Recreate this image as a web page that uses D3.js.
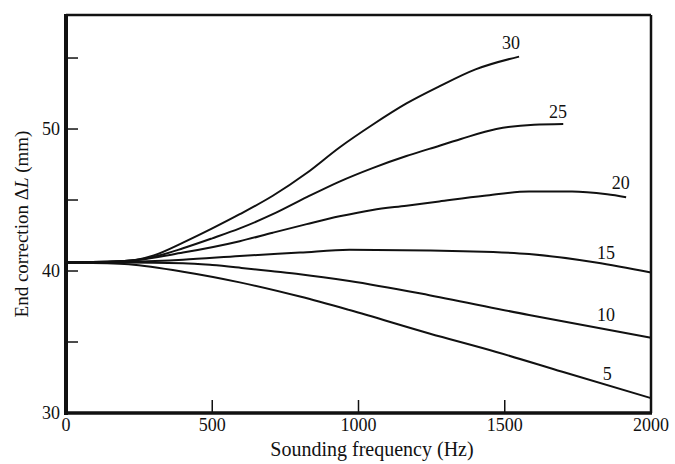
<!DOCTYPE html>
<html><head><meta charset="utf-8">
<script src="https://cdn.jsdelivr.net/npm/d3@7"></script>
<style>body{margin:0;background:#fff}svg{display:block}text{font-family:"Liberation Serif","DejaVu Serif",serif;fill:#111}</style>
</head><body><svg id="c" width="675" height="464"></svg>
<script>
// Data (frequency Hz, end correction mm) per curve, labelled by parameter
const freq30 = [0,200,300,400,500,594,707,823,935,1048,1164,1276,1400,1549];
const val30  = [40.6,40.7,41.1,42.0,43.0,44.0,45.3,46.9,48.7,50.3,51.8,53.0,54.2,55.1];
const freq25 = [0,200,300,400,500,594,707,823,935,1048,1164,1242,1350,1471,1600,1700];
const val25  = [40.6,40.7,41.0,41.6,42.3,43.0,44.0,45.2,46.3,47.25,48.1,48.6,49.3,50.0,50.3,50.35];
const freq20 = [0,200,400,594,707,823,935,1048,1164,1276,1430,1583,1730,1850,1915];
const val20  = [40.6,40.7,41.3,42.1,42.7,43.3,43.85,44.3,44.6,44.9,45.3,45.6,45.6,45.4,45.2];
const freq15 = [0,200,400,594,800,969,1242,1358,1583,1812,2000];
const val15  = [40.6,40.65,40.8,41.06,41.3,41.5,41.45,41.4,41.2,40.6,39.9];
const freq10 = [0,200,400,500,600,700,800,969,1242,1583,2000];
const val10  = [40.6,40.6,40.55,40.42,40.22,40.0,39.78,39.3,38.3,36.9,35.3];
const freq5  = [0,200,400,594,800,969,1242,1471,1697,2000];
const val5   = [40.6,40.5,39.95,39.2,38.2,37.25,35.6,34.3,32.9,31.05];
const seriesLabels = ["30","25","20","15","10","5"];
const labelFreq = [1521,1682,1897,1846,1846,1850];
const labelVal  = [56.06,51.2,46.2,41.3,36.9,32.8];
const xTicks = [0,500,1000,1500,2000];
const yTicks = [35,40,45,50,55];
const yTickLabels = [30,40,50];

const svg = d3.select("#c");
const L=66, T=15, R=651, B=413;
const x = d3.scaleLinear().domain([0,2000]).range([L,R]);
const y = d3.scaleLinear().domain([30,58.03]).range([B,T]);

const series = [[freq30,val30],[freq25,val25],[freq20,val20],[freq15,val15],[freq10,val10],[freq5,val5]];
const line = d3.line().x(d=>x(d[0])).y(d=>y(d[1])).curve(d3.curveMonotoneX);
series.forEach(([f,v])=>{
  svg.append("path").attr("d", line(f.map((d,i)=>[d,v[i]])))
    .attr("fill","none").attr("stroke","#111").attr("stroke-width",2);
});

// ticks (inside)
svg.selectAll(".yt").data(yTicks).enter().append("line")
  .attr("x1",L).attr("x2",L+12).attr("y1",d=>y(d)).attr("y2",d=>y(d))
  .attr("stroke","#111").attr("stroke-width",1.5);
svg.selectAll(".xt").data(xTicks.slice(1,-1)).enter().append("line")
  .attr("x1",d=>x(d)).attr("x2",d=>x(d)).attr("y1",B).attr("y2",B-13)
  .attr("stroke","#111").attr("stroke-width",1.5);

// frame
svg.append("line").attr("x1",L).attr("x2",R).attr("y1",T).attr("y2",T).attr("stroke","#111").attr("stroke-width",2.5);
svg.append("line").attr("x1",R).attr("x2",R).attr("y1",T).attr("y2",B).attr("stroke","#111").attr("stroke-width",2.5);
svg.append("line").attr("x1",L).attr("x2",L).attr("y1",T-1).attr("y2",B+2).attr("stroke","#111").attr("stroke-width",4);
svg.append("line").attr("x1",L-2).attr("x2",R+1).attr("y1",B).attr("y2",B).attr("stroke","#111").attr("stroke-width",3.5);

// tick labels
svg.selectAll(".yl").data(yTickLabels).enter().append("text")
  .attr("x",L-6).attr("y",d=>y(d)).attr("dy","0.35em").attr("text-anchor","end")
  .attr("font-size",18).text(d=>d);
svg.selectAll(".xl").data(xTicks).enter().append("text")
  .attr("x",d=>x(d)).attr("y",431).attr("text-anchor","middle")
  .attr("font-size",18).text(d=>d);

// series labels
svg.selectAll(".sl").data(seriesLabels).enter().append("text")
  .attr("x",(d,i)=>x(labelFreq[i])).attr("y",(d,i)=>y(labelVal[i])).attr("dy","0.35em")
  .attr("text-anchor","middle").attr("font-size",18).text(d=>d);

// axis titles
svg.append("text").attr("x",372).attr("y",456).attr("text-anchor","middle")
  .attr("font-size",20).text("Sounding frequency (Hz)");
const yt = svg.append("text").attr("transform","translate(28,224) rotate(-90)")
  .attr("text-anchor","middle").attr("font-size",19);
yt.append("tspan").text("End correction Δ");
yt.append("tspan").attr("font-style","italic").text("L");
yt.append("tspan").text(" (mm)");
</script></body></html>
